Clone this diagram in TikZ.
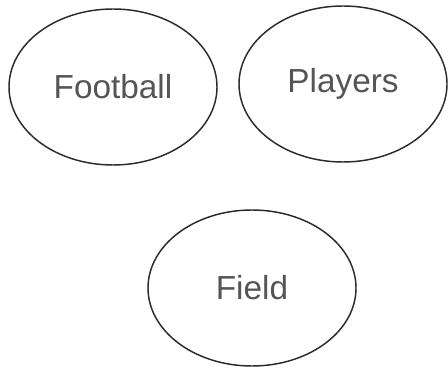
\documentclass[tikz,border=0pt]{standalone}
\usepackage{fontspec}
\setmainfont{Liberation Sans}
\usepackage{tikz}
\usetikzlibrary{shapes.geometric}
\definecolor{cizgiGri}{HTML}{2B2B2B}
\definecolor{yaziGri}{HTML}{555555}

\begin{document}
\begin{tikzpicture}[x=0.75pt,y=-0.75pt,
  every node/.style={font=\fontsize{25}{28}\selectfont},
  balon/.style={ellipse,draw=cizgiGri,line width=1.1pt,text=yaziGri,
               minimum width=156pt,minimum height=117pt,inner sep=0pt}]
\useasboundingbox (0,0) rectangle (448,370);
\node[balon] (futbol) at (113,87) {Football};
\node[balon] (oyuncu) at (343,84) {Players};
\node[balon] (saha) at (252,288) {Field};
\end{tikzpicture}
\end{document}
